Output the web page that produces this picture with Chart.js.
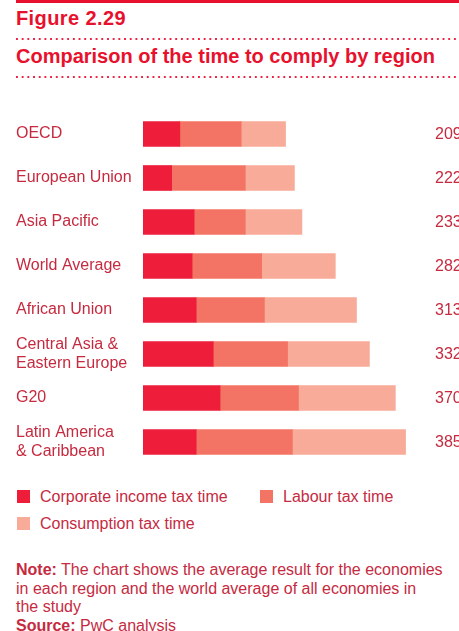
<!DOCTYPE html>
<html>
<head>
<meta charset="utf-8">
<script src="https://cdn.jsdelivr.net/npm/chart.js@4.4.1/dist/chart.umd.min.js"></script>
<style>
    html, body { margin: 0; padding: 0; background: #fff; }
    body { width: 459px; height: 631px; overflow: hidden; position: relative; font-family: "Liberation Sans", Arial, Helvetica, sans-serif; }
    .rule { position: absolute; left: 16px; width: 443px; top: 0; height: 3px; background: #e8112d; }
    .dots { position: absolute; left: 16px; right: 0; height: 2px;
        background-image: linear-gradient(to right, #ec2444 0, #ec2444 2.2px, transparent 2.2px);
        background-size: 5.7px 2px; background-repeat: repeat-x; }
    .fig { position: absolute; left: 16px; top: 7px; font-size: 20px; font-weight: bold; color: #e8112d; letter-spacing: 0.4px; }
    .subtitle { position: absolute; left: 16px; top: 45px; font-size: 20px; font-weight: bold; color: #e8112d; white-space: nowrap; }
    #chart-wrap { position: absolute; left: 0; top: 112px; width: 484px; height: 352px; }
    .legend-item { position: absolute; font-size: 16px; color: #c62a3f; white-space: nowrap; }
    .legend-item span.sw { position: absolute; width: 13px; height: 13px; }
    .note { position: absolute; left: 16px; top: 561px; width: 440px; font-size: 16px; line-height: 18.5px; color: #c62a3f; }
</style>
</head>
<body>
<div class="rule"></div>
<div class="fig">Figure 2.29</div>
<div class="dots" style="top:38px"></div>
<div class="subtitle">Comparison of the time to comply by region</div>
<div class="dots" style="top:76px"></div>

<div id="chart-wrap"><canvas id="chart-comply"></canvas></div>
<div id="legend"></div>

<div class="note"><b>Note:</b> The chart shows the average result for the economies<br>in each region and the world average of all economies in<br>the study<br><b>Source:</b> PwC analysis</div>

<script>
// Time to comply (hours) by region
const regions = [
    'OECD',
    'European Union',
    'Asia Pacific',
    'World Average',
    'African Union',
    ['Central Asia &', 'Eastern Europe'],
    'G20',
    ['Latin America', '& Caribbean']
];
const corporateTime = [54, 42, 75, 72, 78, 103, 113, 78];
const labourTime = [90, 108, 75, 102, 100, 109, 115, 141];
const consumptionTime = [65, 72, 83, 108, 135, 120, 142, 166];
const seriesNames = ['Corporate income tax time', 'Labour tax time', 'Consumption tax time'];
const seriesColors = ['#ee1d3a', '#f37464', '#f7ab98'];

const textRed = '#c62a3f';
const totals = regions.map((r, i) => corporateTime[i] + labourTime[i] + consumptionTime[i]);

// totals column on the right, clipped by the page edge like the original
const totalsPlugin = {
    id: 'totals',
    afterDatasetsDraw(chart) {
        const ctx = chart.ctx;
        const yScale = chart.scales.y;
        ctx.save();
        ctx.font = '16px "Liberation Sans", Arial, sans-serif';
        ctx.fillStyle = textRed;
        ctx.textAlign = 'left';
        ctx.textBaseline = 'middle';
        totals.forEach((t, i) => {
            ctx.fillText(String(t), chart.chartArea.left + 292, yScale.getPixelForValue(i) + 1);
        });
        ctx.restore();
    }
};

const ctx = document.getElementById('chart-comply').getContext('2d');
const chart = new Chart(ctx, {
    type: 'bar',
    data: {
        labels: regions,
        datasets: [corporateTime, labourTime, consumptionTime].map((d, i) => ({
            label: seriesNames[i],
            data: d,
            backgroundColor: seriesColors[i],
            borderWidth: 0,
            barThickness: 25
        }))
    },
    options: {
        indexAxis: 'y',
        responsive: true,
        maintainAspectRatio: false,
        animation: false,
        layout: { padding: { left: 16, right: 0, top: 0, bottom: 0 } },
        plugins: {
            legend: { display: false },
            tooltip: { enabled: false }
        },
        scales: {
            x: {
                stacked: true,
                display: false,
                min: 0,
                max: 500
            },
            y: {
                stacked: true,
                grid: { display: false },
                border: { display: false },
                ticks: {
                    crossAlign: 'far',
                    padding: 0,
                    color: textRed,
                    font: { family: '"Liberation Sans", Arial, sans-serif', size: 16, lineHeight: 1.2 }
                },
                afterFit(scale) {
                    scale.width = 127;
                    // labels sit inside the bands, no extra room needed above/below
                    scale.paddingTop = 0;
                    scale.paddingBottom = 0;
                }
            }
        }
    },
    plugins: [totalsPlugin]
});

// HTML legend built from the chart datasets
const legendPos = [
    { left: 17, top: 488 },
    { left: 260, top: 488 },
    { left: 17, top: 515 }
];
const legendEl = document.getElementById('legend');
chart.data.datasets.forEach((ds, i) => {
    const item = document.createElement('div');
    item.className = 'legend-item';
    item.style.left = legendPos[i].left + 'px';
    item.style.top = legendPos[i].top + 'px';
    item.style.paddingLeft = '23px';
    const sw = document.createElement('span');
    sw.className = 'sw';
    sw.style.background = ds.backgroundColor;
    sw.style.left = '0px';
    sw.style.top = '2px';
    item.appendChild(sw);
    item.appendChild(document.createTextNode(ds.label));
    legendEl.appendChild(item);
});
</script>
</body>
</html>
